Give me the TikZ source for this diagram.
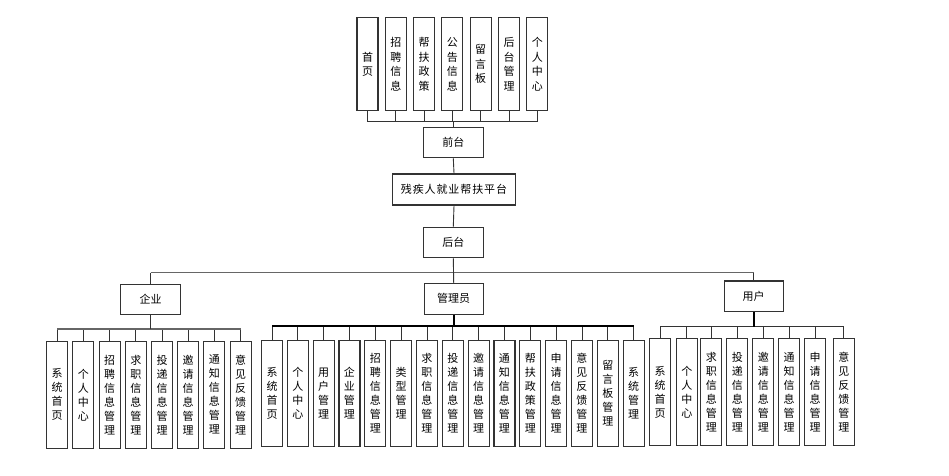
\documentclass[tikz,border=0pt]{standalone}
\usepackage{fontspec}
\newfontfamily\cjk{Noto Sans CJK SC}
\begin{document}
\begin{tikzpicture}[x=1pt,y=-1pt,
  box/.style={draw=black!80, line width=1.1pt, fill=white, inner sep=0pt},
  hbox/.style={box, minimum width=60pt, minimum height=30.5pt, font=\cjk\fontsize{11}{13}\selectfont},
  vbox/.style={box, minimum width=21pt, align=center, anchor=north},
  conn/.style={draw=black!80, line width=0.9pt},
  bus/.style={draw=black!60, line width=1.2pt},
  heavy/.style={draw=black, line width=1.6pt}]
\useasboundingbox (0,0) rectangle (949,475);

% top row
\foreach \i/\t in {0/{首\\页},1/{招\\聘\\信\\息},2/{帮\\扶\\政\\策},3/{公\\告\\信\\息},4/{留\\言\\板},5/{后\\台\\管\\理},6/{个\\人\\中\\心}}
  \node[vbox, minimum height=92.7pt, font=\cjk\fontsize{11}{14.5}\selectfont] (t\i) at (367.5+28.3*\i,17.3) {\t};

\node[hbox] (qt) at (453.3,142.5) {前台};
\node[hbox, minimum width=123.4pt, minimum height=31pt] (pt) at (454,189.5) {\addfontfeatures{LetterSpace=8}残疾人就业帮扶平台};
\node[hbox] (ht) at (453.3,242.5) {后台};

\coordinate (topbus) at (0,121.7);
\foreach \i in {0,...,6} \draw[conn] (t\i.south) -- (t\i.south |- topbus);
\draw[conn] (t0.south |- topbus) -- (t6.south |- topbus);
\draw[conn] (qt.north |- topbus) -- (qt.north);
\draw[conn] (qt.south) -- (pt.north);
\draw[conn] (pt.south) -- (ht.north);

% second level
\node[hbox, minimum width=59.6pt, minimum height=30pt] (qy) at (150.5,299.3) {企业};
\node[hbox, minimum width=59.3pt, minimum height=30.7pt] (gl) at (453.7,298.7) {管理员};
\node[hbox, minimum width=59.3pt, minimum height=30.7pt] (yh) at (753.7,296.3) {用户};

\coordinate (midbus) at (0,272.7);
\draw[bus] (qy.north |- midbus) -- (yh.north |- midbus);
\draw[conn] (ht.south) -- (gl.north);
\draw[conn] (qy.north |- midbus) -- (qy.north);
\draw[conn] (yh.north |- midbus) -- (yh.north);

% enterprise children
\foreach \i/\t in {0/{系\\统\\首\\页},1/{个\\人\\中\\心},2/{招\\聘\\信\\息\\管\\理},3/{求\\职\\信\\息\\管\\理},4/{投\\递\\信\\息\\管\\理},5/{邀\\请\\信\\息\\管\\理},6/{通\\知\\信\\息\\管\\理},7/{意\\见\\反\\馈\\管\\理}}
  \node[vbox, minimum height=107pt, font=\cjk\fontsize{11}{14}\selectfont] (a\i) at (57.2+26.2*\i,340.7) {\t};
\coordinate (abus) at (0,329);
\foreach \i in {0,...,7} \draw[conn] (a\i.north) -- (a\i.north |- abus);
\draw[bus] (a0.north |- abus) -- (a7.north |- abus);
\draw[conn] (qy.south) -- (qy.south |- abus);

% admin children
\foreach \i/\t in {0/{系\\统\\首\\页},1/{个\\人\\中\\心},2/{用\\户\\管\\理},3/{企\\业\\管\\理},4/{招\\聘\\信\\息\\管\\理},5/{类\\型\\管\\理},6/{求\\职\\信\\息\\管\\理},7/{投\\递\\信\\息\\管\\理},8/{邀\\请\\信\\息\\管\\理},9/{通\\知\\信\\息\\管\\理},10/{帮\\扶\\政\\策\\管\\理},11/{申\\请\\信\\息\\管\\理},12/{意\\见\\反\\馈\\管\\理},13/{留\\言\\板\\管\\理},14/{系\\统\\管\\理}}
  \node[vbox, minimum height=106pt, font=\cjk\fontsize{11}{14}\selectfont] (b\i) at (272+25.83*\i,340) {\t};
\coordinate (bbus) at (0,325.7);
\foreach \i in {0,...,14} \draw[conn] (b\i.north) -- (b\i.north |- bbus);
\draw[heavy] (b0.north |- bbus) -- (b14.north |- bbus);
\draw[heavy] (gl.south) -- (gl.south |- bbus);

% user children
\foreach \i/\x/\t in {0/660/{系\\统\\首\\页},1/686.8/{个\\人\\中\\心},2/711.3/{求\\职\\信\\息\\管\\理},3/737.3/{投\\递\\信\\息\\管\\理},4/763.3/{邀\\请\\信\\息\\管\\理},5/789.2/{通\\知\\信\\息\\管\\理},6/815/{申\\请\\信\\息\\管\\理},7/843.8/{意\\见\\反\\馈\\管\\理}}
  \node[vbox, minimum height=107.3pt, font=\cjk\fontsize{11}{14}\selectfont] (c\i) at (\x,337.7) {\t};
\coordinate (cbus) at (0,326.7);
\foreach \i in {0,...,7} \draw[conn] (c\i.north) -- (c\i.north |- cbus);
\draw[conn] (c0.north |- cbus) -- (c7.north |- cbus);
\draw[heavy] (yh.south) -- (yh.south |- cbus);
\end{tikzpicture}
\end{document}
